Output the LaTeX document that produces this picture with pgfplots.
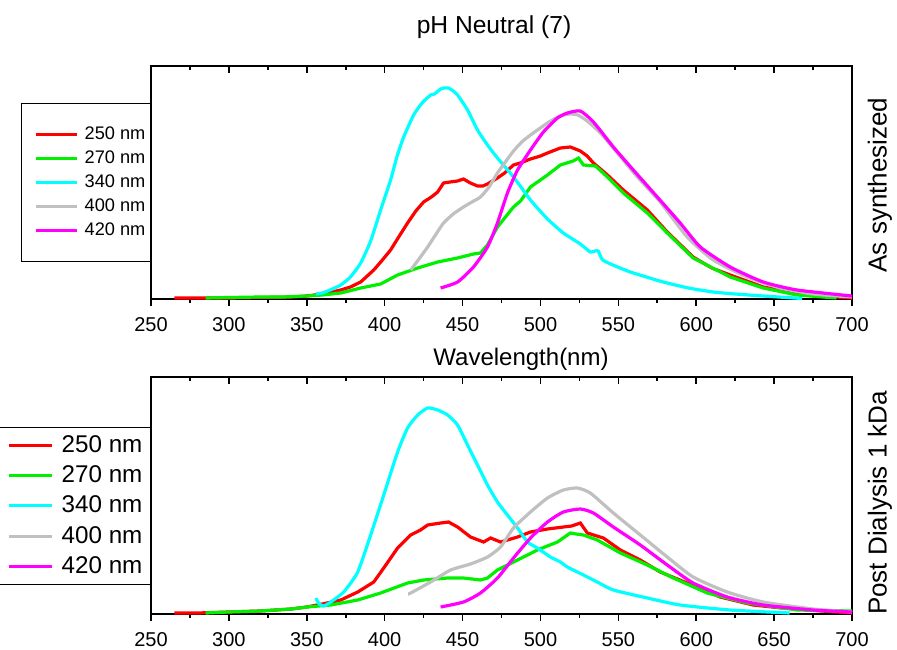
\documentclass[border=0pt]{standalone}
\usepackage{pgfplots}
\pgfplotsset{compat=1.18}
\usepackage{fontspec}
\setmainfont{Liberation Sans}
\definecolor{cred}{RGB}{255,0,0}
\definecolor{cgreen}{RGB}{0,240,0}
\definecolor{ccyan}{RGB}{0,255,255}
\definecolor{cgray}{RGB}{192,192,192}
\definecolor{cmag}{RGB}{255,0,255}
\pgfplotsset{
  base/.style={scale only axis, width=350.5pt, xmin=250, xmax=700, ymin=0,
    axis line style={line width=1pt}, anchor=south west,
    /pgf/number format/assume math mode=true,
    tick label style={font=\fontsize{10}{12}\selectfont},
    xticklabel style={yshift=-2.2pt}},
  ser/.style={line width=1.6pt, #1},
  sser/.style={line width=1.6pt, smooth, tension=0.35, #1},
}
\begin{document}
\begin{tikzpicture}
\useasboundingbox (0,0) rectangle (448.5pt,324.5pt);
% ---------- top panel ----------
\begin{axis}[base, at={(75.5pt,175pt)}, height=116.5pt, ymax=233,
  xtick={250,300,...,700}, minor x tick num=1, xtick pos=left, ytick=\empty,
  tick align=outside, major tick length=3.5pt, minor tick length=2pt,
  tick style={line width=0.8pt, black},
  legend cell align=left,
  legend image code/.code={\path (0pt,0pt); \draw[#1,line width=1.5pt] (4pt,0pt) -- (24.5pt,0pt);},
  legend style={at={(0,0.5)}, anchor=east, draw=black, line width=0.6pt,
    font=\fontsize{9.1}{11}\selectfont, inner xsep=2.5pt, inner ysep=11.5pt,
    row sep=4.1pt, column sep=3pt, nodes={inner sep=0pt}},
]
\addplot[ser=cred] coordinates {(265,1)(280,1)(300,1)(320,1.5)(340,2)(350,3)(360,5)(371.8,9)(378,12)(384.6,17)(393,29)(398,38)(403.8,49)(409,62)(414.7,76)(420,88)(425,97)(430,102)(434,107)(437.8,116)(442,117)(446.8,118)(450.6,120)(455,116)(459.6,113)(463,113)(466,115)(472.4,121)(477,126)(482.7,134)(487,136)(493.6,140)(500,143)(504.5,146)(512.8,151)(519.2,152)(525.6,148)(530,143)(534,136)(543,124)(553.2,109)(568.6,89)(581.4,67)(598,42)(610,31)(621.8,24)(643,12)(664.7,6)(680,3)(700,1)};
\addlegendentry{250 nm}
\addplot[ser=cgreen] coordinates {(285,1)(300,1.5)(320,2)(335,2)(350,3)(360,4)(371.8,6)(384.6,11)(397.4,15)(408.3,24)(421.2,31)(434,37)(446.8,41)(457,45)(461.5,46)(466,54)(472.4,72)(482.7,92)(487.2,98)(493.6,112)(504.5,124)(512.8,134)(521,138)(524.4,141)(527.6,134)(535.3,133)(543,122)(553.2,106)(568.6,86)(581.4,66)(598,41)(621.8,22)(643,11)(664.7,4)(690,1)};
\addlegendentry{270 nm}
\addplot[sser=ccyan] coordinates {(355.8,5)(360,6)(365,9)(371.8,14)(378,22)(384.6,36)(391,58)(397.4,89)(403.8,119)(408,143)(412.2,162)(418.6,184)(424,196)(429.5,204)(432,205)(435.9,210)(438,211)(441,211)(444,208)(446.8,204)(453.2,189)(459.6,169)(466,154)(472.4,141)(482.7,122)(493.6,99)(504.5,80)(514.7,66)(525.6,55)(532,47)(535,48)(537,48)(540,39)(548,33)(557.7,27)(568,22)(578.8,17)(595,11)(610.9,7)(625,5)(643,3)(668,0.5)};
\addlegendentry{340 nm}
\addplot[sser=cgray] coordinates {(416.7,29)(422,40)(427.6,52)(433,65)(437.8,76)(444,85)(450.6,92)(456,97)(461.5,102)(467,112)(472.4,126)(477,136)(482.7,148)(488,157)(493.6,164)(499,170)(504.5,176)(510,181)(515,184)(519.2,185)(524,184)(530,178)(538.5,166)(549.4,146)(562.2,122)(576.9,97)(594.2,62)(610.9,39)(632.7,22)(653.8,11)(675,5)(700,2)};
\addlegendentry{400 nm}
\addplot[sser=cmag] coordinates {(435.9,11)(446.8,17)(457,32)(466,52)(472.4,76)(478.8,106)(485.3,129)(493.6,149)(501.9,167)(510.9,181)(517.3,186)(525.6,188)(534,177)(546.8,152)(559.6,129)(575,102)(589.7,76)(602.6,52)(621.8,32)(643,17)(664.7,9)(700,3)};
\addlegendentry{420 nm}
\end{axis}
\begin{axis}[base, at={(75.5pt,175pt)}, height=116.5pt, ymax=233,
  axis x line*=top, axis y line*=left, tick align=inside,
  xtick={250,300,...,700}, minor x tick num=1, xticklabels={},
  ytick=\empty, minor ytick={13.3,26.6,...,230}, yticklabels={},
  major tick length=3.5pt, minor tick length=2pt, tick style={line width=0.8pt, black}]
\addplot[draw=none] coordinates {(250,0)(700,233)};
\end{axis}
% ---------- bottom panel ----------
\begin{axis}[base, at={(75.5pt,17.5pt)}, height=118.5pt, ymax=237,
  xtick={250,300,...,700}, minor x tick num=1, xtick pos=left, ytick=\empty,
  tick align=outside, major tick length=3.5pt, minor tick length=2pt,
  tick style={line width=0.8pt, black},
  legend cell align=left,
  legend image code/.code={\path (0pt,0pt); \draw[#1,line width=1.5pt] (3pt,0pt) -- (24.5pt,0pt);},
  legend style={at={(0,0.456)}, anchor=east, draw=black, line width=0.6pt,
    font=\fontsize{12.1}{14}\selectfont, inner xsep=4pt, inner ysep=4pt,
    row sep=5.2pt, column sep=4pt, nodes={inner sep=0pt}},
]
\addplot[ser=cred] coordinates {(265,1)(280,1)(300,2)(320,3)(340,5)(350,7)(360,10)(371.8,14)(382.7,22)(393,32)(399.4,46)(408.3,66)(416.7,79)(423,84)(427.6,89)(435.9,91)(441,92)(446.8,87)(455.1,77)(463.5,72)(468,76)(474.4,72)(485.3,77)(493.6,82)(504.5,85)(514.7,87)(520,88)(525.6,91)(530.1,81)(540.4,76)(551.3,64)(564.1,54)(576.9,42)(594.2,31)(615.4,17)(636.5,9)(655,6)(662,7)(671,4)(700,1)};
\addlegendentry{250 nm}
\addplot[ser=cgreen] coordinates {(285,1)(300,2)(320,3)(340,5)(350,7)(365.4,9)(382.7,14)(397.4,21)(414.7,31)(425,34)(440.4,36)(450.6,36)(461.5,34)(466,36)(472.4,44)(485.3,54)(498,64)(510.9,72)(519.2,81)(523,80)(527.6,79)(536.5,74)(551.3,61)(568.6,49)(585.3,36)(607.1,21)(632.7,11)(664.7,4)(700,3)};
\addlegendentry{270 nm}
\addplot[sser=ccyan] coordinates {(355.8,16)(358,10)(361,8)(365.4,12)(373.7,22)(382.7,42)(391,79)(399.4,119)(408.3,162)(414.7,186)(421.2,199)(427.6,206)(434,204)(440.4,199)(446.8,189)(453.2,169)(459.6,149)(466,129)(472.4,112)(478.8,99)(485.3,86)(491.7,72)(498,66)(506.4,57)(512.8,52)(517.3,47)(527.6,39)(536.5,32)(546.8,24)(568.6,16)(589.7,9)(621.8,4)(660,1)};
\addlegendentry{340 nm}
\addplot[sser=cgray] coordinates {(415,20)(416.7,21)(429.5,32)(442.3,44)(455.1,50)(466,57)(474.4,67)(482.7,86)(493.6,102)(504.5,116)(514.7,124)(523.7,126)(532,121)(546.8,101)(564.1,79)(581.4,57)(598,37)(619.9,22)(643,12)(675,5)(700,2)};
\addlegendentry{400 nm}
\addplot[sser=cmag] coordinates {(435.9,7)(450.6,12)(461.5,21)(472.4,36)(482.7,56)(493.6,76)(504.5,92)(514.7,102)(525.6,105)(534,101)(546.8,87)(564.1,69)(581.4,49)(598,31)(619.9,17)(643,9)(675,4)(700,2)};
\addlegendentry{420 nm}
\end{axis}
\begin{axis}[base, at={(75.5pt,17.5pt)}, height=118.5pt, ymax=237,
  axis x line*=top, axis y line*=left, tick align=inside,
  xtick={250,300,...,700}, minor x tick num=1, xticklabels={},
  ytick=\empty, minor ytick={13.3,26.6,...,235}, yticklabels={},
  major tick length=3.5pt, minor tick length=2pt, tick style={line width=0.8pt, black}]
\addplot[draw=none] coordinates {(250,0)(700,237)};
\end{axis}
% ---------- texts ----------
\node[font=\fontsize{12.3}{14}\selectfont] at (247pt,311pt) {pH Neutral (7)};
\node[font=\fontsize{12}{14}\selectfont] at (260.5pt,145pt) {Wavelength(nm)};
\node[font=\fontsize{13}{15}\selectfont, rotate=90] at (440pt,232pt) {As synthesized};
\node[font=\fontsize{13}{15}\selectfont, rotate=90] at (440pt,73pt) {Post Dialysis 1 kDa};
\end{tikzpicture}
\end{document}
